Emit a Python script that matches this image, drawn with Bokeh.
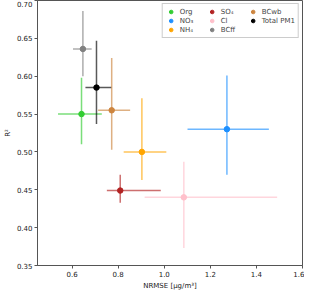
from bokeh.plotting import figure
from bokeh.models import FixedTicker, PrintfTickFormatter, Legend, LegendItem, Range1d
from bokeh.embed import file_html
from bokeh.resources import INLINE

names = ["Org", "NO₃", "NH₄", "SO₄", "Cl", "BCff", "BCwb", "Total PM1"]
colors = ["#32CD32", "#1E90FF", "#FFA500", "#B22222", "#FFC0CB", "#808080", "#CD853F", "#000000"]
nrmse = [0.641, 1.272, 0.903, 0.809, 1.085, 0.647, 0.772, 0.706]
nrmse_lo = [0.539, 1.101, 0.824, 0.751, 0.915, 0.604, 0.713, 0.658]
nrmse_hi = [0.729, 1.454, 1.009, 0.985, 1.490, 0.685, 0.852, 0.770]
r2 = [0.550, 0.530, 0.500, 0.449, 0.440, 0.636, 0.555, 0.585]
r2_lo = [0.510, 0.470, 0.463, 0.433, 0.373, 0.600, 0.503, 0.537]
r2_hi = [0.598, 0.601, 0.571, 0.470, 0.487, 0.686, 0.624, 0.647]
x_ticks = [0.6, 0.8, 1.0, 1.2, 1.4, 1.6]
y_ticks = [0.35, 0.40, 0.45, 0.50, 0.55, 0.60, 0.65, 0.70]

p = figure(width=304, height=292, output_backend="svg", toolbar_location=None,
           x_range=Range1d(0.45, 1.6), y_range=Range1d(0.35, 0.70),
           min_border_left=2, min_border_right=2, min_border_top=0, min_border_bottom=0)
p.grid.visible = False
p.outline_line_color = "#555555"
p.background_fill_color = "white"

items = []
for i in range(len(names)):
    c = colors[i]
    p.segment(x0=[nrmse_lo[i]], y0=[r2[i]], x1=[nrmse_hi[i]], y1=[r2[i]],
              line_color=c, line_width=1.5, line_alpha=0.65)
    p.segment(x0=[nrmse[i]], y0=[r2_lo[i]], x1=[nrmse[i]], y1=[r2_hi[i]],
              line_color=c, line_width=1.5, line_alpha=0.65)
    r = p.scatter(x=[nrmse[i]], y=[r2[i]], size=5.5, fill_color=c, line_color=c)
    items.append(LegendItem(label=names[i], renderers=[r]))

legend = Legend(items=items, ncols=3, location="top_right",
                label_text_font="DejaVu Sans", label_text_font_size="7px",
                glyph_width=10, glyph_height=9, label_height=9, label_width=27,
                label_standoff=4, spacing=0, padding=3, margin=3,
                border_line_color="#cccccc", border_line_alpha=1.0,
                background_fill_alpha=0.8)
p.add_layout(legend)

for ax in (p.xaxis, p.yaxis):
    ax.axis_line_color = "#555555"
    ax.major_tick_line_color = "#555555"
    ax.minor_tick_line_color = None
    ax.major_tick_out = 3
    ax.major_tick_in = 0
    ax.major_label_text_font = "DejaVu Sans"
    ax.major_label_text_font_size = "7px"
    ax.major_label_text_color = "#222222"
    ax.axis_label_text_font = "DejaVu Sans"
    ax.axis_label_text_font_size = "7px"
    ax.axis_label_text_font_style = "normal"
    ax.axis_label_text_color = "#222222"
    ax.major_label_standoff = 2
    ax.axis_label_standoff = 2

p.xaxis.ticker = FixedTicker(ticks=x_ticks)
p.yaxis.ticker = FixedTicker(ticks=y_ticks)
p.xaxis.formatter = PrintfTickFormatter(format="%.1f")
p.yaxis.formatter = PrintfTickFormatter(format="%.2f")
p.xaxis.axis_label = "NRMSE [μg/m³]"
p.yaxis.axis_label = "R²"

open("out.html", "w").write(file_html(p, INLINE))
